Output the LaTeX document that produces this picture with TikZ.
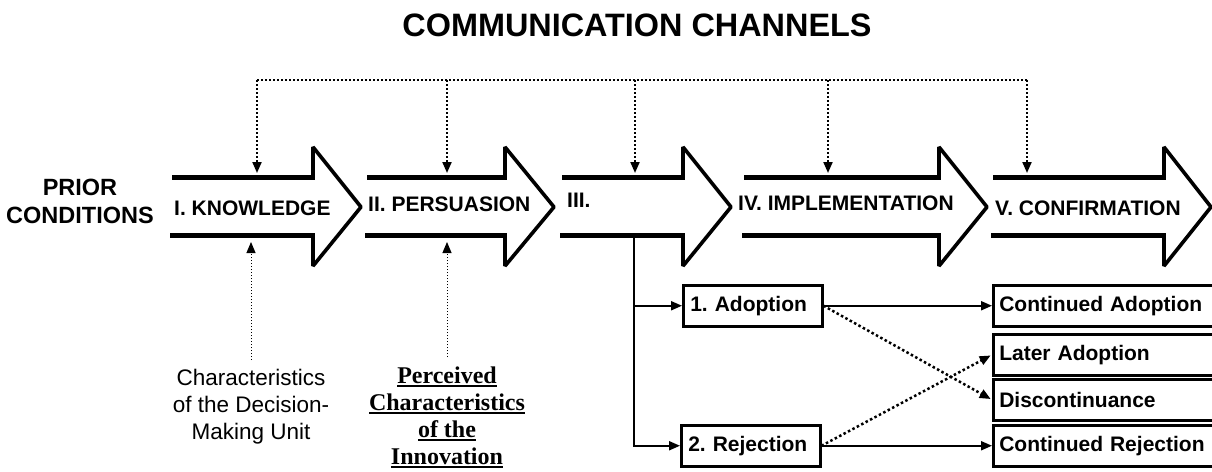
\documentclass[tikz,border=0pt]{standalone}
\usepackage{fontspec}
\setmainfont{Liberation Sans}
\newfontfamily\timesfont{Liberation Serif}
\usetikzlibrary{arrows.meta}

% underline with a heavy rule, as used for the serif label
\newcommand\ulword[1]{\setbox0\hbox{#1}\rlap{\rule[-3.6pt]{\wd0}{2.2pt}}\box0}

\begin{document}
\frenchspacing
\begin{tikzpicture}[x=1pt, y=-1pt,
  every node/.style={inner sep=0pt},
  shaft/.style={line width=5pt},
  headline/.style={line width=3.6pt, line join=bevel},
  stage/.style={font=\bfseries\fontsize{21}{25}\selectfont, anchor=base west},
  box/.style={draw, line width=2.5pt, font=\bfseries\fontsize{21}{25}\selectfont,
    minimum height=41pt, inner xsep=6pt, align=left, anchor=north west},
  endtip/.style={-{Triangle[length=11pt,width=9pt]}},
  channel/.style={line width=2pt, dash pattern=on 2pt off 2pt},
  faint/.style={line width=1pt, dash pattern=on 1pt off 2pt, endtip},
  flow/.style={line width=2pt, endtip},
  maybe/.style={line width=2.5pt, dash pattern=on 2.5pt off 2.5pt, endtip, shorten >=1.5pt},
]
\useasboundingbox (0,0) rectangle (1212,471);

% title and the channel bus
\node[font=\bfseries\fontsize{32.4}{36}\selectfont, anchor=base] (title) at (637,36) {COMMUNICATION CHANNELS};

\foreach \x [count=\i] in {257,447,635,828,1027} {
  \coordinate (ch\i) at (\x,80);
  \coordinate (top\i) at (\x,173);
}
\draw[channel] (ch1) -- (ch5);
\foreach \i in {1,...,5} \draw[channel, endtip] (ch\i) -- (top\i);

% stage arrows: shaft start / notch / tip
\foreach \s/\n/\t in {172/313/361, 367/505/554, 562/683/731, 744/939/987, 993/1164/1211} {
  \draw[shaft] (\s,177) -- (\n+2,177);
  \draw[shaft] (\s-2,235) -- (\n+2,235);
  \draw[headline] (\n,177) -- (\n,147) -- (\t,207) -- (\n,266) -- (\n,235);
}

% labels
\node[font=\bfseries\fontsize{23.5}{28}\selectfont, align=center, anchor=north] (prior) at (80,179) {PRIOR\\CONDITIONS};
\node[stage] (knowledge) at (174,215) {I. KNOWLEDGE};
\node[stage] (persuasion) at (368,211) {II. PERSUASION};
\node[stage] (decision) at (567,207) {III.};
\node[stage] (implementation) at (738,210) {IV. IMPLEMENTATION};
\node[stage] (confirmation) at (995,215) {V. CONFIRMATION};

% influences from below
\coordinate (bot1) at (251,242);
\coordinate (bot2) at (447,242);
\node[font=\fontsize{22.5}{27}\selectfont, align=center, anchor=north, inner ysep=9pt] (dmu) at (251,360)
  {Characteristics\\of the Decision-\\Making Unit};
\node[font=\timesfont\bfseries\fontsize{24}{27}\selectfont, align=center, anchor=north, inner ysep=9.8pt] (pci) at (447,357)
  {\ulword{Perceived}\\\ulword{Characteristics}\\\ulword{of the}\\\ulword{Innovation}};
\draw[faint] (dmu.north) -- (bot1);
\draw[faint] (pci.north) -- (bot2);

% decision outcomes
\node[box, text width=125pt, inner xsep=7pt] (adopt) at (682,284) {1. Adoption};
\node[box, text width=125pt, inner xsep=7pt] (reject) at (680,424) {2. Rejection};
\node[box, text width=210pt] (cadopt) at (992,284) {Continued Adoption};
\node[box, text width=210pt] (later) at (992,333) {Later Adoption};
\node[box, text width=210pt] (discont) at (992,378) {Discontinuance};
\node[box, text width=210pt] (creject) at (992,424) {Continued Rejection};

\coordinate (split) at (634,237);
\draw[flow] (split) |- (adopt.west);
\draw[flow] (split) |- (reject.west);
\draw[flow] (adopt.east) -- (cadopt.west);
\draw[flow] (reject.east) -- (creject.west);
\draw[maybe] (adopt.east) -- (discont.west);
\draw[maybe] (reject.east) -- (later.west);
\end{tikzpicture}
\end{document}
